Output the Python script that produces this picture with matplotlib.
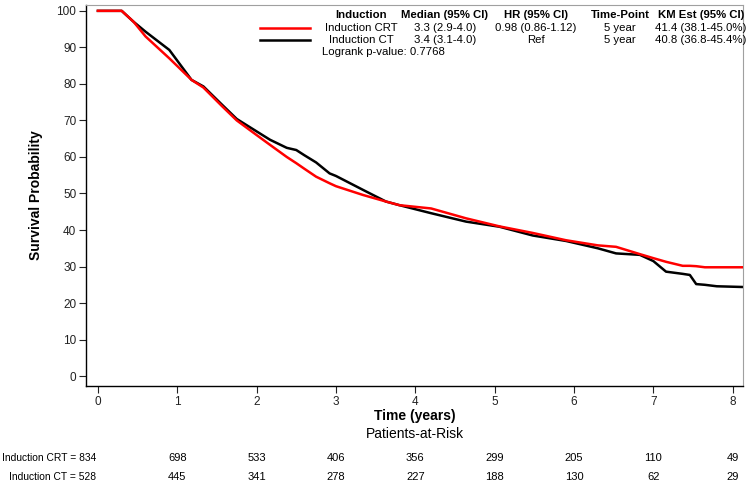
import numpy as np
import matplotlib.pyplot as plt
from matplotlib.lines import Line2D

plt.rcParams['font.family'] = ['Liberation Sans', 'DejaVu Sans']

# Kaplan-Meier curves (time in years, survival %)
time_yr = [0, 0.3, 0.45, 0.6, 0.9, 1.18, 1.33, 1.56, 1.75, 2.0, 2.17, 2.38, 2.5,
           2.6, 2.75, 2.92, 3.0, 3.34, 3.63, 3.8, 4.2, 4.64, 5.06, 5.48, 5.9, 6.3,
           6.53, 6.83, 7.0, 7.16, 7.37, 7.46, 7.54, 7.65, 7.8, 8.13]
surv_crt = [100, 100, 97.0, 93.0, 87.0, 81.1, 79.0, 74.0, 70.0, 66.0, 63.3, 60.0, 58.3,
            56.8, 54.6, 52.8, 52.0, 49.6, 47.8, 46.8, 45.9, 43.2, 41.0, 39.2, 37.2, 35.8,
            35.4, 33.4, 32.3, 31.3, 30.2, 30.2, 30.1, 29.8, 29.8, 29.8]
surv_ct = [100, 100, 97.0, 94.3, 89.3, 81.1, 79.3, 74.4, 70.4, 67.0, 64.7, 62.5, 61.9,
           60.5, 58.5, 55.5, 54.8, 51.0, 47.8, 46.8, 44.6, 42.3, 40.9, 38.5, 37.0, 35.0,
           33.6, 33.2, 31.5, 28.6, 28.0, 27.7, 25.2, 25.0, 24.6, 24.4]

risk_times = [1, 2, 3, 4, 5, 6, 7, 8]
risk_crt = [698, 533, 406, 356, 299, 205, 110, 49]
risk_ct = [445, 341, 278, 227, 188, 130, 62, 29]

table_header = ["Induction", "Median (95% CI)", "HR (95% CI)", "Time-Point", "KM Est (95% CI)"]
table_crt = ["Induction CRT", "3.3 (2.9-4.0)", "0.98 (0.86-1.12)", "5 year", "41.4 (38.1-45.0%)"]
table_ct = ["Induction CT", "3.4 (3.1-4.0)", "Ref", "5 year", "40.8 (36.8-45.4%)"]

W, H = 750, 484
fig = plt.figure(figsize=(W / 100, H / 100), dpi=100)
ax = fig.add_axes([86 / W, 1 - 386 / H, 657 / W, 381 / H])

ax.plot(time_yr, surv_crt, color='#ff0000', lw=1.8, zorder=3)
ax.plot(time_yr, surv_ct, color='#000000', lw=1.8, zorder=2)

ax.set_xlim(-0.15, 8.13)
ax.set_ylim(-2.7, 101.6)
ax.set_xticks(range(0, 9))
ax.set_yticks(range(0, 101, 10))
ax.tick_params(direction='out', length=5, width=0.8, labelsize=8.5, pad=2, colors='#222222')
for s in ['top', 'right']:
    ax.spines[s].set_color('#a0a0a0')
for s in ['left', 'bottom']:
    ax.spines[s].set_color('#000000')
    ax.spines[s].set_linewidth(1.0)

ax.set_ylabel("Survival Probability", fontsize=10, fontweight='bold', labelpad=10)

def fx(px):
    return px / W

def fy(py):
    return 1 - py / H

fig.text(fx(415), fy(416), "Time (years)", ha='center', va='center', fontsize=10, fontweight='bold')
fig.text(fx(415), fy(434), "Patients-at-Risk", ha='center', va='center', fontsize=10)

# at-risk table, columns aligned to the x axis
trans = ax.get_xaxis_transform()
renderer = fig.canvas.get_renderer()
labels = [fig.text(fx(75), fy(py), txt, ha='right', va='center', fontsize=7.4)
          for txt, py in [("Induction CRT = 834", 458), ("Induction CT = 528", 477)]]
right = max(75, max(l.get_window_extent(renderer).width for l in labels) + 2)
for lab in labels:
    lab.set_x(fx(right))
for t, a, b in zip(risk_times, risk_crt, risk_ct):
    ax.text(t, -(458 - 386) / 381, str(a), transform=trans, ha='center', va='center',
            fontsize=8, clip_on=False)
    ax.text(t, -(477 - 386) / 381, str(b), transform=trans, ha='center', va='center',
            fontsize=8, clip_on=False)

# inset summary table
col_x = [361, 445, 536, 620, 701]
for x, txt in zip(col_x, table_header):
    fig.text(fx(x), fy(15), txt, ha='center', va='center', fontsize=8.2, fontweight='bold')
for x, txt in zip(col_x, table_crt):
    fig.text(fx(x), fy(28), txt, ha='center', va='center', fontsize=8.2)
for x, txt in zip(col_x, table_ct):
    fig.text(fx(x), fy(40), txt, ha='center', va='center', fontsize=8.2)
fig.text(fx(322), fy(52), "Logrank p-value: 0.7768", ha='left', va='center', fontsize=8.2)
fig.add_artist(Line2D([fx(260), fx(310)], [fy(28), fy(28)], color='#ff0000', lw=1.8))
fig.add_artist(Line2D([fx(260), fx(310)], [fy(40), fy(40)], color='#000000', lw=1.8))

fig.savefig("out.png", dpi=100)
